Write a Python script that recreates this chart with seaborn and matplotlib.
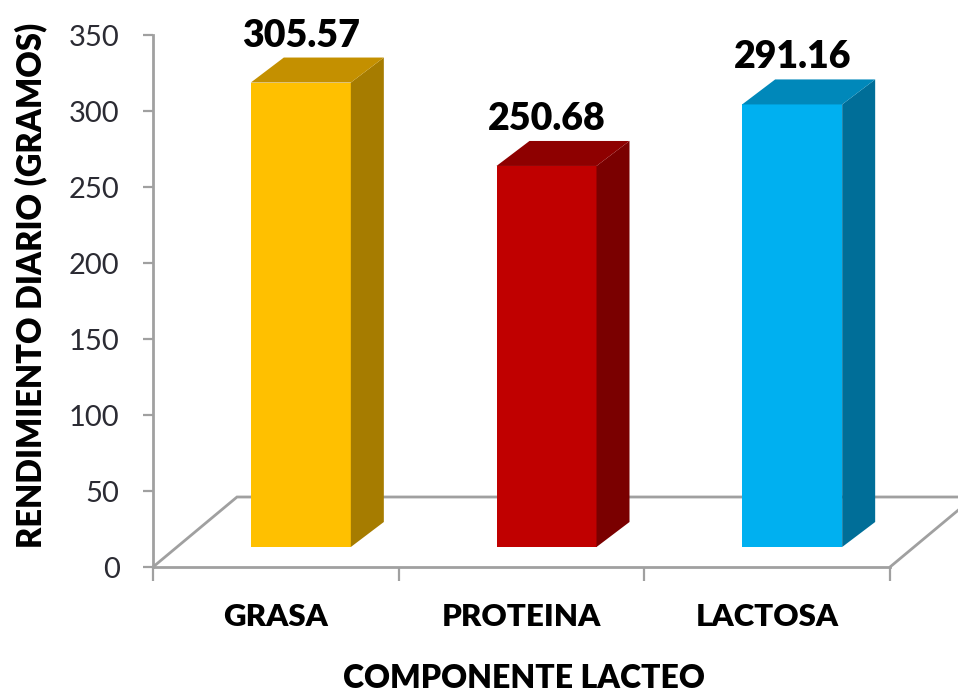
import matplotlib
matplotlib.use("Agg")
import matplotlib.pyplot as plt
import seaborn as sns
from matplotlib.patches import Polygon
from matplotlib.ticker import FixedLocator

categories = ["GRASA", "PROTEINA", "LACTOSA"]
values = [305.57, 250.68, 291.16]
value_labels = ["305.57", "250.68", "291.16"]
front_colors = ["#FFC000", "#C00000", "#00B0F0"]
top_colors = ["#C49000", "#8E0000", "#0088BA"]
side_colors = ["#A67C00", "#7A0000", "#006E98"]
y_ticks = [0, 50, 100, 150, 200, 250, 300, 350]

sns.set_theme(style="white")
plt.rcParams["font.family"] = ["Lato", "DejaVu Sans"]

W, H = 958, 693
fig = plt.figure(figsize=(W / 100, H / 100), dpi=100)

# main axes (pixel geometry)
ax_l, ax_r, ax_top, ax_bot = 153, 890, 35, 567
pos = [ax_l / W, (H - ax_bot) / H, (ax_r - ax_l) / W, (ax_bot - ax_top) / H]
ax = fig.add_axes(pos)
ax.set_xlim(-0.5, 2.5)
ax.set_ylim(0, 350)
ax.patch.set_alpha(0)

px_x = (ax_r - ax_l) / 3.0      # pixels per category unit
px_y = (ax_bot - ax_top) / 350.0  # pixels per value unit

grey = "#A0A0A0"
for s in ["top", "right"]:
    ax.spines[s].set_visible(False)
for s in ["left", "bottom"]:
    ax.spines[s].set_color(grey)
    ax.spines[s].set_linewidth(2.0)

ax.set_yticks(y_ticks)
ax.tick_params(axis="y", which="major", direction="out", length=7, width=1.6,
               color=grey, pad=17, labelsize=21, labelcolor="#2B2B33", left=True)
ax.set_xticks([0, 1, 2])
ax.set_xticklabels(categories, fontweight="heavy")
ax.xaxis.set_minor_locator(FixedLocator([-0.5, 0.5, 1.5, 2.5]))
ax.tick_params(axis="x", which="major", length=0, pad=26, labelsize=22.5,
               labelcolor="black")
ax.tick_params(axis="x", which="minor", direction="out", length=10, width=1.6,
               color=grey, bottom=True)

# floor outline
fdx = 84 / px_x
fdy = 70 / px_y
floor_x = [-0.5, -0.5 + fdx, 2.5 + fdx, 2.5]
floor_y = [0, fdy, fdy, 0]
ax.plot(floor_x, floor_y, color=grey, lw=2.0, clip_on=False, zorder=1,
        solid_joinstyle="miter")

ax.set_ylabel("RENDIMIENTO DIARIO (GRAMOS)", fontsize=23.5, fontweight="heavy",
              color="black")
ax.yaxis.set_label_coords((31 - ax_l) / (ax_r - ax_l), (ax_bot - 285) / (ax_bot - ax_top))
ax.yaxis.label.set_verticalalignment("center")
ax.set_xlabel("COMPONENTE LACTEO", fontsize=23, fontweight="heavy", color="black")
ax.xaxis.set_label_coords((524 - ax_l) / (ax_r - ax_l), -(678 - ax_bot) / (ax_bot - ax_top))
ax.xaxis.label.set_verticalalignment("center")

# bar axes, shifted into the depth of the floor
sx, sy = 25, 20
bpos = [(ax_l + sx) / W, (H - ax_bot + sy) / H, pos[2], pos[3]]
bax = fig.add_axes(bpos)
bax.set_xlim(-0.5, 2.5)
bax.set_ylim(0, 350)
bax.patch.set_alpha(0)
bax.axis("off")

sns.barplot(x=categories, y=values, hue=categories, palette=front_colors,
            saturation=1, width=100 / px_x, ax=bax, legend=False,
            linewidth=0, zorder=3)
bax.set_xlim(-0.5, 2.5)
bax.set_ylim(0, 350)

ddx = 33 / px_x
ddy = 25 / px_y
bars = sorted(bax.patches, key=lambda p: p.get_x())
for i, p in enumerate(bars):
    x0 = p.get_x()
    x1 = x0 + p.get_width()
    h = p.get_height()
    p.set_clip_on(False)
    side = Polygon([(x1, 0), (x1 + ddx, ddy), (x1 + ddx, h + ddy), (x1, h)],
                   closed=True, facecolor=side_colors[i], edgecolor="none",
                   zorder=3, clip_on=False)
    top = Polygon([(x0, h), (x0 + ddx, h + ddy), (x1 + ddx, h + ddy), (x1, h)],
                  closed=True, facecolor=top_colors[i], edgecolor="none",
                  zorder=3, clip_on=False)
    bax.add_patch(side)
    bax.add_patch(top)
    bax.text(x0 + p.get_width() / 2, h + ddy + 5 / px_y, value_labels[i],
             ha="center", va="bottom", fontsize=27, fontweight="heavy",
             color="black", clip_on=False)

fig.savefig("out.png", dpi=100)
